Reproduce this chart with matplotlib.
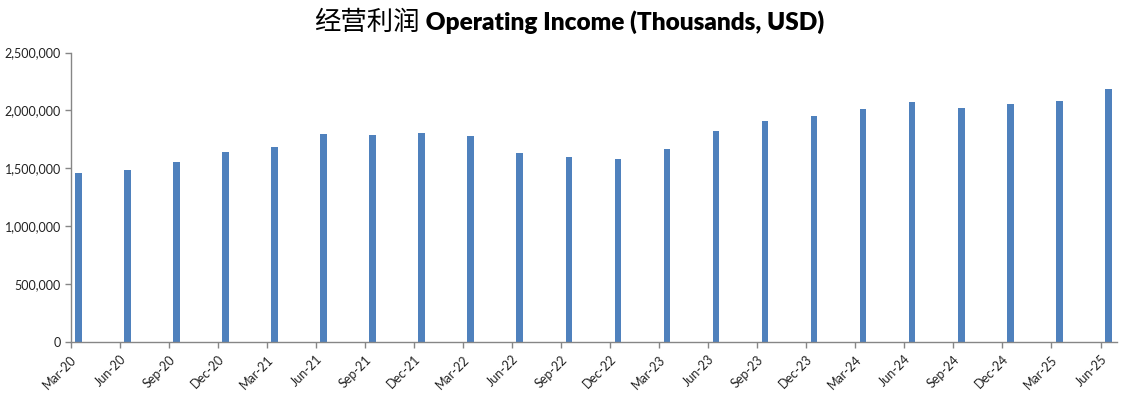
import matplotlib
matplotlib.use("Agg")
import matplotlib.pyplot as plt
import numpy as np
from matplotlib.ticker import FuncFormatter

quarters = ["Mar-20", "Jun-20", "Sep-20", "Dec-20", "Mar-21", "Jun-21", "Sep-21", "Dec-21",
            "Mar-22", "Jun-22", "Sep-22", "Dec-22", "Mar-23", "Jun-23", "Sep-23", "Dec-23",
            "Mar-24", "Jun-24", "Sep-24", "Dec-24", "Mar-25", "Jun-25"]
operating_income = [1460000, 1488000, 1554000, 1641000, 1686000, 1796000, 1787000, 1804000,
                    1778000, 1632000, 1597000, 1580000, 1666000, 1822000, 1908000, 1951000,
                    2011000, 2071000, 2019000, 2054000, 2080000, 2183000]
y_ticks = [0, 500000, 1000000, 1500000, 2000000, 2500000]
title_cn = "经营利润"
title_en = "Operating Income (Thousands, USD)"

W, H = 1133, 397
fig = plt.figure(figsize=(W / 100, H / 100), dpi=100)
ax = fig.add_axes([70.5 / W, (H - 342) / H, (1116.7 - 70.5) / W, (342 - 52.5) / H])

x = np.arange(len(quarters))
ax.bar(x + 0.16, operating_income, width=0.135, color="#4F81BD", align="center")

ax.set_xlim(0, 21.33)
ax.set_ylim(0, 2500000)
ax.set_yticks(y_ticks)
ax.yaxis.set_major_formatter(FuncFormatter(lambda v, p: f"{int(v):,}"))
ax.set_xticks(x)
ax.set_xticklabels(quarters, rotation=45, ha="right", rotation_mode="anchor")

for lab in ax.get_xticklabels() + ax.get_yticklabels():
    lab.set_family("Lato")
    lab.set_fontsize(9)
    lab.set_color("#222222")

for s in ["top", "right"]:
    ax.spines[s].set_visible(False)
for s in ["left", "bottom"]:
    ax.spines[s].set_color("#868686")
    ax.spines[s].set_linewidth(1.0)
ax.tick_params(axis="both", direction="out", length=4, color="#868686", width=1.0)
ax.tick_params(axis="y", pad=3)
ax.tick_params(axis="x", pad=4)

# Title: Chinese part (regular) + English part (bold), centered on figure
renderer = fig.canvas.get_renderer()
t_cn = fig.text(0, 0, title_cn, family=["Noto Sans CJK SC", "DejaVu Sans"], fontsize=19,
                color="black", va="baseline", ha="left")
t_en = fig.text(0, 0, " " + title_en, family=["Lato", "DejaVu Sans"], fontsize=17.6,
                fontweight="heavy", color="black", va="baseline", ha="left")
w_cn = t_cn.get_window_extent(renderer).width
w_en = t_en.get_window_extent(renderer).width
total = w_cn + w_en
start = 569 - total / 2
base_y = (H - 30) / H
t_cn.set_position((start / W, base_y))
t_en.set_position(((start + w_cn) / W, base_y))

fig.savefig("out.png", dpi=100)
